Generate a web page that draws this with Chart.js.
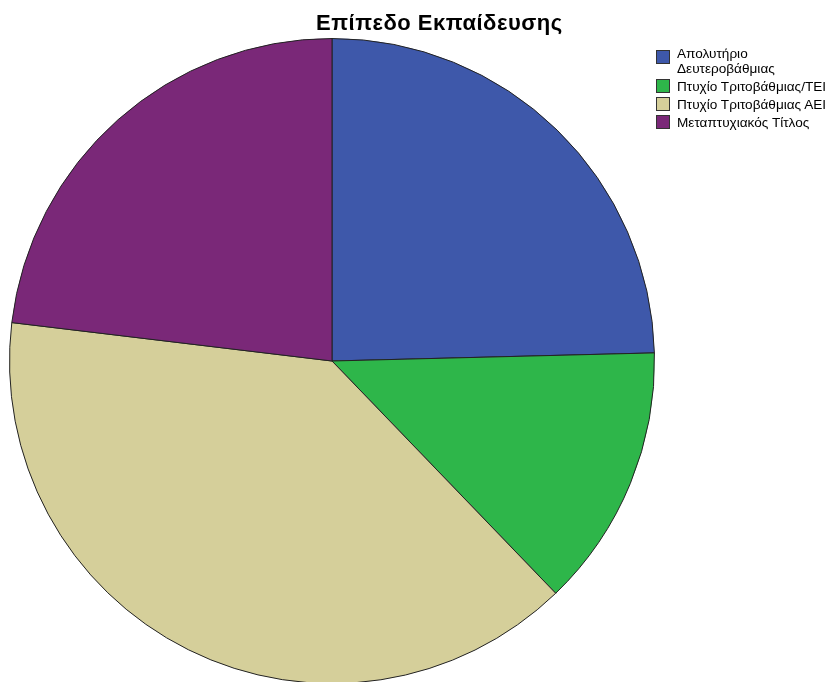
<!DOCTYPE html>
<html>
<head>
<meta charset="utf-8">
<script src="https://cdn.jsdelivr.net/npm/chart.js@4"></script>
<style>
    html, body { margin: 0; padding: 0; background: #fff; overflow: hidden; }
    #wrap { position: relative; width: 836px; height: 700px; }
    #title {
        position: absolute; left: 316px; top: 10px;
        font: bold 22px "Liberation Sans", Arial, sans-serif; color: #000;
        letter-spacing: 0.5px; white-space: nowrap;
    }
    #legend {
        position: absolute; left: 656px; top: 46px;
        font: 13.6px "Liberation Sans", Arial, sans-serif; color: #000;
        white-space: nowrap;
    }
    .item { position: relative; padding-left: 21px; line-height: 15px; margin-bottom: 3px; }
    .box {
        position: absolute; left: 0; top: 0; width: 12px; height: 12px;
        border: 1px solid #333;
    }
</style>
</head>
<body>
<div id="wrap">
    <canvas id="pie" width="836" height="700"></canvas>
    <div id="title">Επίπεδο Εκπαίδευσης</div>
    <div id="legend"></div>
</div>
<script>
// Education level shares (percent)
const categories = ['Απολυτήριο Δευτεροβάθμιας', 'Πτυχίο Τριτοβάθμιας/ΤΕΙ', 'Πτυχίο Τριτοβάθμιας ΑΕΙ', 'Μεταπτυχιακός Τίτλος'];
const legendLines = [['Απολυτήριο', 'Δευτεροβάθμιας'], ['Πτυχίο Τριτοβάθμιας/ΤΕΙ'], ['Πτυχίο Τριτοβάθμιας ΑΕΙ'], ['Μεταπτυχιακός Τίτλος']];
const shares = [24.6, 13.2, 39.1, 23.1];
const colors = ['#3e58aa', '#2eb64a', '#d5cf9a', '#7a2878'];

// HTML legend (first item wraps onto two lines)
const legendEl = document.getElementById('legend');
legendLines.forEach((lines, i) => {
    const item = document.createElement('div');
    item.className = 'item';
    const boxTop = lines.length > 1 ? 4 : 0;
    item.innerHTML = '<span class="box" style="top:' + boxTop + 'px;background:' + colors[i] + '"></span>' + lines.join('<br>');
    legendEl.appendChild(item);
});

new Chart(document.getElementById('pie'), {
    type: 'pie',
    data: {
        labels: categories,
        datasets: [{
            data: shares,
            backgroundColor: colors,
            borderColor: '#222',
            borderWidth: 1
        }]
    },
    options: {
        responsive: false,
        animation: false,
        layout: {
            padding: { left: 9, top: 38, right: 181, bottom: 16 }
        },
        plugins: {
            legend: { display: false },
            title: { display: false },
            tooltip: { enabled: false }
        }
    }
});
</script>
</body>
</html>
